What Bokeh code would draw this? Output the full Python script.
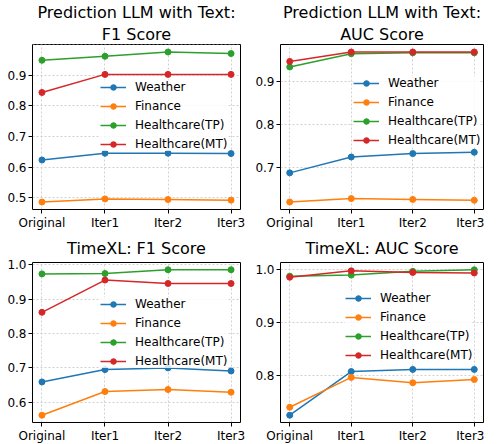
from bokeh.plotting import figure
from bokeh.layouts import column, row
from bokeh.models import FixedTicker, Range1d, PrintfTickFormatter, Title
from bokeh.embed import file_html
from bokeh.resources import INLINE

categories = ["Original", "Iter1", "Iter2", "Iter3"]
series_names = ["Weather", "Finance", "Healthcare(TP)", "Healthcare(MT)"]
colors = ["#1f77b4", "#ff7f0e", "#2ca02c", "#d62728"]
y_ticks = [0.5, 0.6, 0.7, 0.8, 0.9, 1.0]

# Prediction LLM with Text: F1 Score
llm_f1_weather = [0.623, 0.645, 0.645, 0.644]
llm_f1_finance = [0.486, 0.496, 0.494, 0.492]
llm_f1_tp = [0.948, 0.961, 0.975, 0.970]
llm_f1_mt = [0.843, 0.902, 0.902, 0.902]

# Prediction LLM with Text: AUC Score
llm_auc_weather = [0.687, 0.724, 0.732, 0.735]
llm_auc_finance = [0.619, 0.627, 0.625, 0.623]
llm_auc_tp = [0.934, 0.965, 0.967, 0.967]
llm_auc_mt = [0.947, 0.969, 0.969, 0.969]

# TimeXL: F1 Score
tx_f1_weather = [0.659, 0.695, 0.700, 0.691]
tx_f1_finance = [0.562, 0.631, 0.637, 0.629]
tx_f1_tp = [0.974, 0.975, 0.986, 0.986]
tx_f1_mt = [0.862, 0.956, 0.946, 0.946]

# TimeXL: AUC Score
tx_auc_weather = [0.726, 0.808, 0.812, 0.812]
tx_auc_finance = [0.741, 0.797, 0.787, 0.793]
tx_auc_tp = [0.987, 0.989, 0.996, 0.999]
tx_auc_mt = [0.985, 0.997, 0.994, 0.993]

FONT = "DejaVu Sans"
LEG_PAD, LEG_ROW, LEG_SP = 5, 14, 5
LEG_H = 2 * LEG_PAD + 4 * LEG_ROW + 3 * LEG_SP


def add_title(p, text, standoff):
    t = Title(text=text, align="center", text_font=FONT, text_font_size="16px",
              text_font_style="normal", text_color="black", standoff=standoff)
    p.add_layout(t, "above")


def make(title_lines, series, frame_w, frame_h, borders, leg_dx, leg_dy, t_standoff):
    xs = list(range(len(categories)))
    xm = (xs[-1] - xs[0]) * 0.05
    allv = [v for s in series for v in s]
    lo, hi = min(allv), max(allv)
    ym = (hi - lo) * 0.05
    bl, br, bt, bb = borders
    p = figure(title=None, frame_width=frame_w, frame_height=frame_h,
               x_range=Range1d(xs[0] - xm, xs[-1] + xm),
               y_range=Range1d(lo - ym, hi + ym),
               output_backend="svg", toolbar_location=None,
               min_border_left=bl, min_border_right=br,
               min_border_top=bt, min_border_bottom=bb,
               background_fill_color="white", border_fill_color="white")
    # nearest to the plot first
    for i, line in enumerate(reversed(title_lines)):
        add_title(p, line, t_standoff if i == 0 else 0)

    for name, vals, c in zip(series_names, series, colors):
        p.line(xs, vals, line_color=c, line_width=1.5, legend_label=name)
        p.scatter(xs, vals, size=6, fill_color=c, line_color=c, legend_label=name)

    p.xaxis.ticker = FixedTicker(ticks=xs)
    p.xaxis.major_label_overrides = {i: c for i, c in zip(xs, categories)}
    p.yaxis.ticker = FixedTicker(ticks=y_ticks)
    p.yaxis.formatter = PrintfTickFormatter(format="%.1f")
    for ax in (p.xaxis[0], p.yaxis[0]):
        ax.axis_line_color = None
        ax.major_tick_out = 4
        ax.major_tick_in = 0
        ax.major_tick_line_color = "black"
        ax.minor_tick_line_color = None
        ax.major_label_text_font = FONT
        ax.major_label_text_font_size = "12px"
        ax.major_label_text_color = "black"
        ax.major_label_standoff = 2
    p.grid.grid_line_color = "#c4c4c4"
    p.grid.grid_line_dash = "2 2"
    p.grid.grid_line_width = 0.8
    p.outline_line_color = "black"
    p.outline_line_width = 1
    p.outline_line_alpha = 1

    lg = p.legend[0]
    lg.location = (leg_dx, frame_h - leg_dy - LEG_H)
    lg.border_line_color = None
    lg.background_fill_color = "white"
    lg.background_fill_alpha = 0.8
    lg.label_text_font = FONT
    lg.label_text_font_size = "12px"
    lg.label_text_color = "black"
    lg.glyph_width = 26
    lg.glyph_height = LEG_ROW
    lg.label_height = LEG_ROW
    lg.spacing = LEG_SP
    lg.padding = LEG_PAD
    lg.margin = 0
    lg.label_standoff = 9
    return p


p1 = make(["Prediction LLM with Text:", "F1 Score"],
          [llm_f1_weather, llm_f1_finance, llm_f1_tp, llm_f1_mt],
          208, 165, (32, 8, 34, 19), 68, 26, 2)
p2 = make(["Prediction LLM with Text:", "AUC Score"],
          [llm_auc_weather, llm_auc_finance, llm_auc_tp, llm_auc_mt],
          203, 165, (32, 1, 34, 19), 73, 22, 2)
p3 = make(["TimeXL: F1 Score"],
          [tx_f1_weather, tx_f1_finance, tx_f1_tp, tx_f1_mt],
          208, 160, (32, 8, 30, 20), 68, 25, 9)
p4 = make(["TimeXL: AUC Score"],
          [tx_auc_weather, tx_auc_finance, tx_auc_tp, tx_auc_mt],
          203, 160, (32, 1, 30, 20), 65, 19, 9)

layout = column(row(p1, p2), row(p3, p4))
open("out.html", "w").write(file_html(layout, INLINE))
